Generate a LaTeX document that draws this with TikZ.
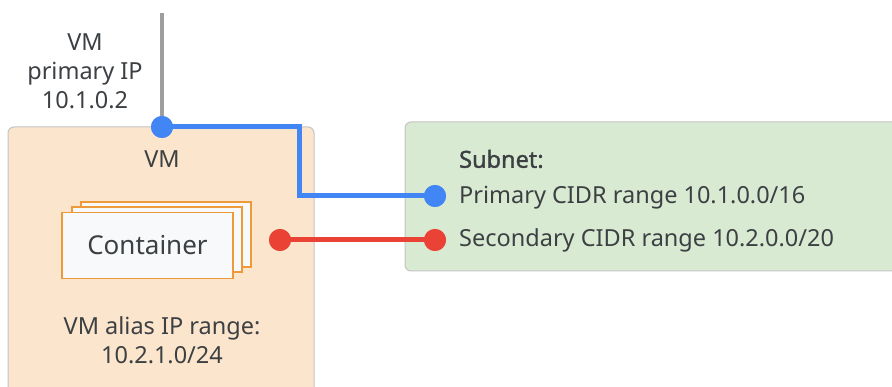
\documentclass[tikz,border=0pt]{standalone}
\usepackage{fontspec}
\setmainfont{Noto Sans}
\newfontfamily\boldish{Noto Sans}[FakeBold=1.3]
\definecolor{txt}{HTML}{3C4043}
\definecolor{vmfill}{HTML}{FCE5CD}
\definecolor{subfill}{HTML}{D9EAD3}
\definecolor{boxline}{HTML}{C4C4C4}
\definecolor{gblue}{HTML}{4285F4}
\definecolor{gred}{HTML}{EA4335}
\definecolor{ggray}{HTML}{9E9E9E}
\definecolor{corange}{HTML}{EE9A3A}
\definecolor{cfill}{HTML}{F8F9FA}
\tikzset{
  lbl/.style={text=txt, font=\fontsize{23.5}{29}\selectfont, inner sep=0pt, align=center},
  area/.style={draw=boxline, line width=1pt, rounded corners=6pt},
  card/.style={draw=corange, line width=1.5pt, fill=cfill},
  dotb/.style={circle, fill=gblue, minimum size=22pt, inner sep=0pt},
  dotr/.style={circle, fill=gred, minimum size=22pt, inner sep=0pt},
  wireb/.style={gblue, line width=5pt},
  wirer/.style={gred, line width=5pt},
}
\begin{document}
\begin{tikzpicture}[x=1pt,y=-1pt]
\useasboundingbox (0,0) rectangle (892,387);
% areas
\path[area, fill=vmfill] (8,127) rectangle (314,400);
\path[area, fill=subfill] (405,122) rectangle (905,271);
% gray line
\coordinate (top) at (162,13);
\node[dotb] (vmip) at (162,127) {};
\draw[ggray, line width=4pt] (top) -- (vmip.center);
% labels
\node[lbl] (vmiplbl) at (85,71) {VM\\primary IP\\10.1.0.2};
\node[lbl] (vmlbl) at (162,159) {VM};
\node[lbl] (alias) at (162,340) {VM alias IP range:\\10.2.1.0/24};
% container stack
\path[card] (81,202) rectangle (251,267);
\path[card] (72,207) rectangle (242,272);
\node[card, minimum width=171pt, minimum height=66pt, inner sep=0pt] (cont) at (147.5,245.5) {};
\node[lbl, font=\fontsize{26}{30}\selectfont] (contlbl) at (cont.center) {Container};
% subnet text
\node[lbl, anchor=west, font=\fontsize{23.5}{28}\boldish] (subnet) at (459,159) {Subnet:};
\node[lbl, anchor=west] (prim) at (459,198) {Primary CIDR range 10.1.0.0/16};
\node[lbl, anchor=west] (sec) at (459,240) {Secondary CIDR range 10.2.0.0/20};
% wires
\node[dotb] (pdot) at (435,196) {};
\node[dotr] (sdot) at (435,240) {};
\node[dotr] (cdot) at (280,240) {};
\draw[wireb] (vmip.center) -- (299,127) -- (299,196) -- (pdot.center);
\draw[wirer] (cdot.center) -- (sdot.center);
\node[dotb] at (vmip.center) {};
\node[dotb] at (pdot.center) {};
\node[dotr] at (sdot.center) {};
\node[dotr] at (cdot.center) {};
\end{tikzpicture}
\end{document}
